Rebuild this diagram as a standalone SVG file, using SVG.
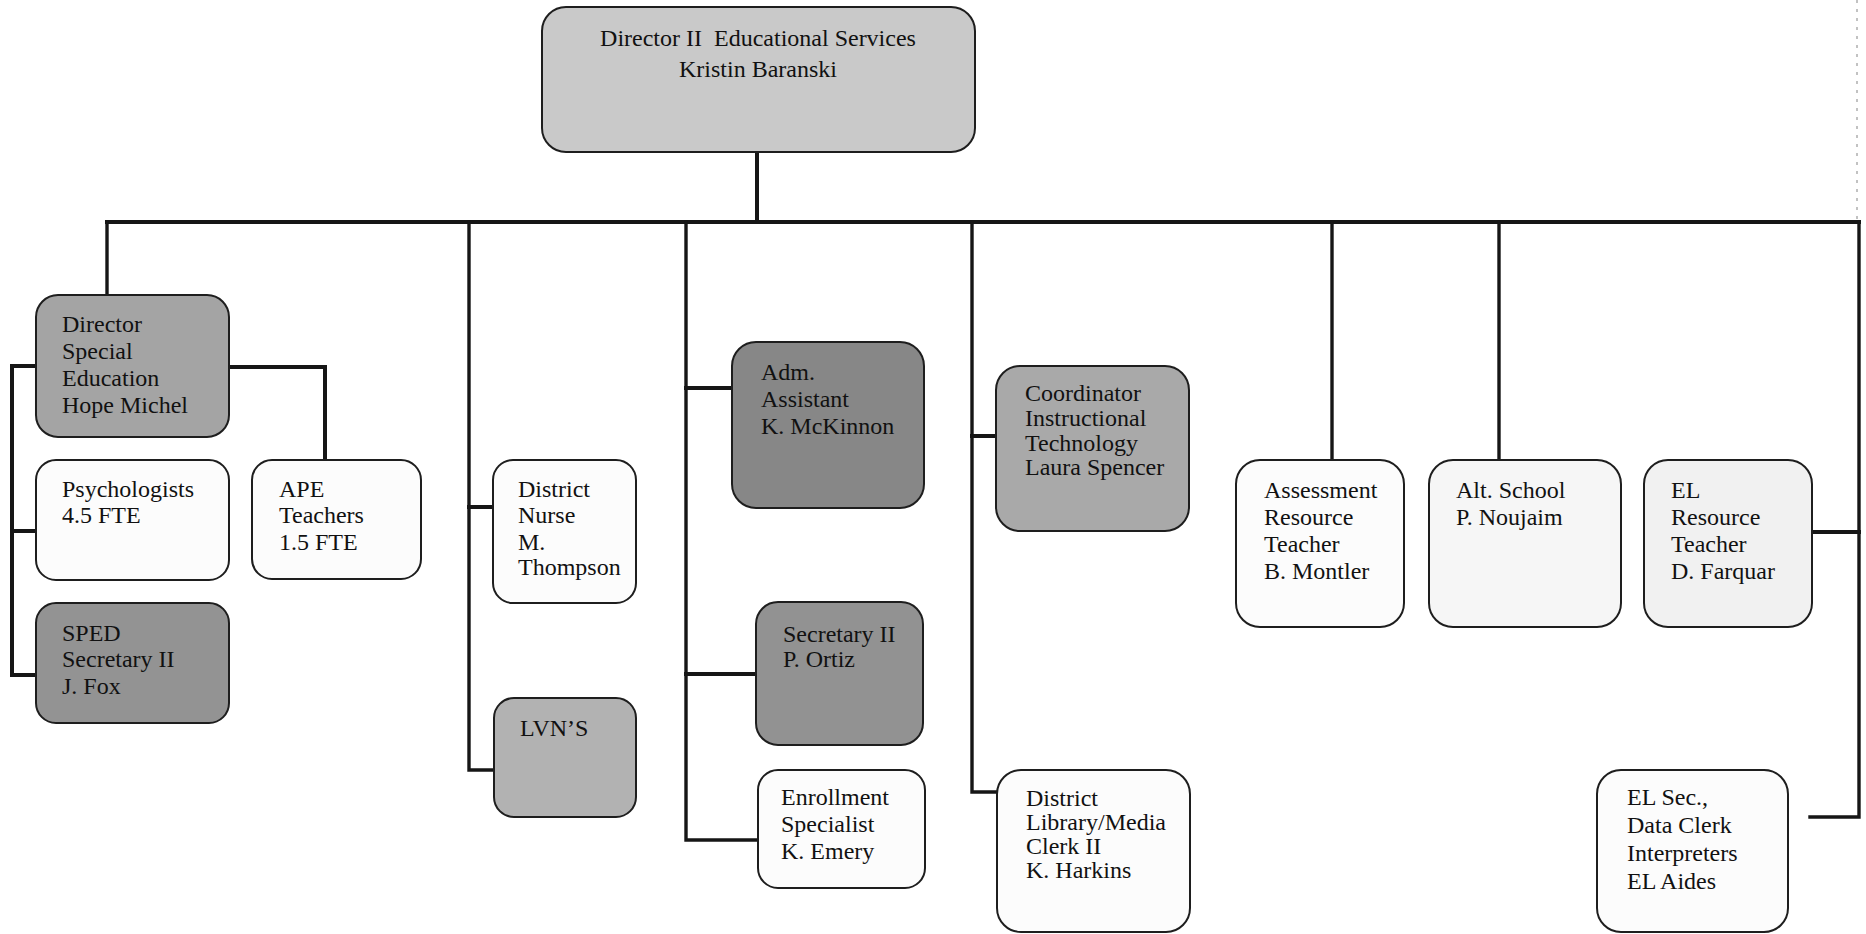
<svg xmlns="http://www.w3.org/2000/svg" width="1866" height="934" viewBox="0 0 1866 934">
<style>
  .box { stroke: #1e1e1e; stroke-width: 2; }
  .w { fill: #fcfcfc; }
  .t { font-family: "Liberation Serif", "Times New Roman", serif; font-size: 24px; fill: #111; }
  .c { text-anchor: middle; }
  .ln { fill: none; stroke: #161616; stroke-width: 4; stroke-linejoin: miter; stroke-linecap: square; }
  .ln3 { fill: none; stroke: #161616; stroke-width: 3.4; stroke-linecap: square; }
</style>
<rect x="0" y="0" width="1866" height="934" fill="#ffffff"/>

<g id="connectors">
  <path class="ln" d="M757,152 V222"/>
  <path class="ln" d="M107,222 H1859"/>
  <path class="ln3" d="M107,222 V295"/>
  <path class="ln3" d="M469,222 V770 H494"/>
  <path class="ln" d="M469,507 H493"/>
  <path class="ln3" d="M686,222 V840 H758"/>
  <path class="ln" d="M686,388 H732"/>
  <path class="ln" d="M686,674 H756"/>
  <path class="ln3" d="M972,222 V792 H997"/>
  <path class="ln" d="M972,436 H996"/>
  <path class="ln3" d="M1332,222 V460"/>
  <path class="ln3" d="M1499,222 V460"/>
  <path class="ln3" d="M1859,222 V817 H1810"/>
  <path class="ln" d="M1812,532 H1859"/>
  <path class="ln" d="M36,366 H12 V675 H36"/>
  <path class="ln" d="M12,531 H36"/>
  <path class="ln" d="M229,367 H325 V460"/>
  <path d="M1857,0 V220" fill="none" stroke="#9a9a9a" stroke-width="1.2" stroke-dasharray="3 6"/>
</g>

<g id="director-ii">
  <rect class="box" x="542" y="7" width="433" height="145" rx="24" fill="#c9c9c9"/>
  <text class="t c" x="758" y="46" font-size="29.5" xml:space="preserve">Director II  Educational Services</text>
  <text class="t c" x="758" y="77" font-size="29.5">Kristin Baranski</text>
</g>

<g id="director-sped">
  <rect class="box" x="36" y="295" width="193" height="142" rx="22" fill="#a4a4a4"/>
  <text class="t" x="62" y="332">Director</text>
  <text class="t" x="62" y="359">Special</text>
  <text class="t" x="62" y="386">Education</text>
  <text class="t" x="62" y="413">Hope Michel</text>
</g>

<g id="psychologists">
  <rect class="box w" x="36" y="460" width="193" height="120" rx="20"/>
  <text class="t" x="62" y="497">Psychologists</text>
  <text class="t" x="62" y="523">4.5 FTE</text>
</g>

<g id="sped-secretary">
  <rect class="box" x="36" y="603" width="193" height="120" rx="20" fill="#939393"/>
  <text class="t" x="62" y="641">SPED</text>
  <text class="t" x="62" y="667">Secretary II</text>
  <text class="t" x="62" y="694">J. Fox</text>
</g>

<g id="ape-teachers">
  <rect class="box w" x="252" y="460" width="169" height="119" rx="20"/>
  <text class="t" x="279" y="497">APE</text>
  <text class="t" x="279" y="523">Teachers</text>
  <text class="t" x="279" y="550">1.5 FTE</text>
</g>

<g id="district-nurse">
  <rect class="box w" x="493" y="460" width="143" height="143" rx="20"/>
  <text class="t" x="518" y="497" font-size="21">District</text>
  <text class="t" x="518" y="523" font-size="21">Nurse</text>
  <text class="t" x="518" y="550" font-size="21">M.</text>
  <text class="t" x="518" y="575" font-size="21">Thompson</text>
</g>

<g id="lvns">
  <rect class="box" x="494" y="698" width="142" height="119" rx="20" fill="#b2b2b2"/>
  <text class="t" x="520" y="736">LVN’S</text>
</g>

<g id="adm-assistant">
  <rect class="box" x="732" y="342" width="192" height="166" rx="24" fill="#878787"/>
  <text class="t" x="761" y="380">Adm.</text>
  <text class="t" x="761" y="407">Assistant</text>
  <text class="t" x="761" y="434">K. McKinnon</text>
</g>

<g id="secretary-ii">
  <rect class="box" x="756" y="602" width="167" height="143" rx="22" fill="#929292"/>
  <text class="t" x="783" y="642">Secretary II</text>
  <text class="t" x="783" y="667">P. Ortiz</text>
</g>

<g id="enrollment">
  <rect class="box w" x="758" y="770" width="167" height="118" rx="20"/>
  <text class="t" x="781" y="805">Enrollment</text>
  <text class="t" x="781" y="832">Specialist</text>
  <text class="t" x="781" y="859">K. Emery</text>
</g>

<g id="coordinator">
  <rect class="box" x="996" y="366" width="193" height="165" rx="24" fill="#a9a9a9"/>
  <text class="t" x="1025" y="401" font-size="19">Coordinator</text>
  <text class="t" x="1025" y="426" font-size="19">Instructional</text>
  <text class="t" x="1025" y="451" font-size="19">Technology</text>
  <text class="t" x="1025" y="475" font-size="19">Laura Spencer</text>
</g>

<g id="library-clerk">
  <rect class="box w" x="997" y="770" width="193" height="162" rx="24"/>
  <text class="t" x="1026" y="806" font-size="19.5">District</text>
  <text class="t" x="1026" y="830" font-size="19.5">Library/Media</text>
  <text class="t" x="1026" y="854" font-size="19.5">Clerk II</text>
  <text class="t" x="1026" y="878" font-size="19.5">K. Harkins</text>
</g>

<g id="assessment">
  <rect class="box w" x="1236" y="460" width="168" height="167" rx="24"/>
  <text class="t" x="1264" y="498">Assessment</text>
  <text class="t" x="1264" y="525">Resource</text>
  <text class="t" x="1264" y="552">Teacher</text>
  <text class="t" x="1264" y="579">B. Montler</text>
</g>

<g id="alt-school">
  <rect class="box" x="1429" y="460" width="192" height="167" rx="24" fill="#f6f6f6"/>
  <text class="t" x="1456" y="498">Alt. School</text>
  <text class="t" x="1456" y="525">P. Noujaim</text>
</g>

<g id="el-resource">
  <rect class="box" x="1644" y="460" width="168" height="167" rx="24" fill="#f1f1f1"/>
  <text class="t" x="1671" y="498">EL</text>
  <text class="t" x="1671" y="525">Resource</text>
  <text class="t" x="1671" y="552">Teacher</text>
  <text class="t" x="1671" y="579">D. Farquar</text>
</g>

<g id="el-secretary">
  <rect class="box w" x="1597" y="770" width="191" height="162" rx="24"/>
  <text class="t" x="1627" y="805" font-size="23">EL Sec.,</text>
  <text class="t" x="1627" y="833" font-size="23">Data Clerk</text>
  <text class="t" x="1627" y="861" font-size="23">Interpreters</text>
  <text class="t" x="1627" y="889" font-size="23">EL Aides</text>
</g>
</svg>
